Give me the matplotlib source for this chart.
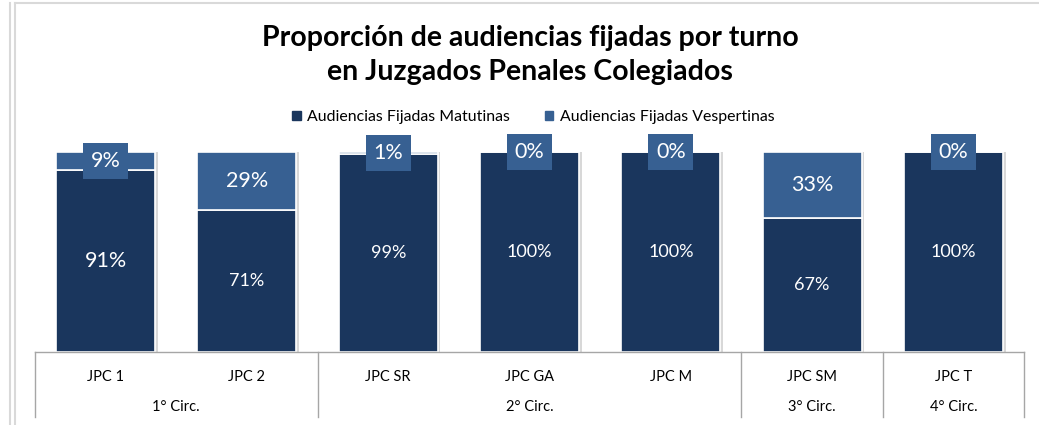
import matplotlib
matplotlib.use("Agg")
import matplotlib.pyplot as plt
from matplotlib.patches import Patch
from matplotlib.lines import Line2D
import numpy as np

plt.rcParams["font.family"] = ["Lato", "DejaVu Sans"]

juzgados = ["JPC 1", "JPC 2", "JPC SR", "JPC GA", "JPC M", "JPC SM", "JPC T"]
matutinas = [0.91, 0.71, 0.99, 1.00, 1.00, 0.67, 1.00]
vespertinas = [0.09, 0.29, 0.01, 0.00, 0.00, 0.33, 0.00]
circ_labels = ["1° Circ.", "2° Circ.", "3° Circ.", "4° Circ."]
circ_sizes = [2, 3, 1, 1]

C_MAT = "#1A365D"
C_VES = "#376092"
GRID = "#A6A6A6"

W, H = 1039, 425
fig = plt.figure(figsize=(W / 100, H / 100), dpi=100)
fig.add_artist(Line2D([15 / W, 15 / W], [0, 1 - 3 / H], color="#D9D9D9", lw=1.5))
fig.add_artist(Line2D([10 / W, 10 / W], [0, 1 - 3 / H], color="#D9D9D9", lw=1.5))
fig.add_artist(Line2D([15 / W, 1], [1 - 3 / H, 1 - 3 / H], color="#D9D9D9", lw=1.5))

ax = fig.add_axes([35 / W, 73 / H, 989 / W, 200 / H])
x = np.arange(len(juzgados))
bw = 0.70
# soft shadow to the right of each bar
ax.bar(x + 0.02, np.array(matutinas) + np.array(vespertinas), bw, color="#D8D8D8", zorder=1)
ax.bar(x, matutinas, bw, color=C_MAT, edgecolor="white", linewidth=1.2, zorder=2,
       label="Audiencias Fijadas Matutinas")
ax.bar(x, vespertinas, bw, bottom=matutinas, color=C_VES, edgecolor="white", linewidth=1.2,
       zorder=2, label="Audiencias Fijadas Vespertinas")

for i in range(len(juzgados)):
    m, v = matutinas[i], vespertinas[i]
    ax.text(x[i], m / 2, f"{m:.0%}", ha="center", va="center", color="white",
            fontsize=15.5 if 0.9 < m < 0.95 else 13, zorder=5)
    ax.text(x[i], m + v / 2, f"{v:.0%}", ha="center", va="center", color="white",
            fontsize=15.5, zorder=5, clip_on=False,
            bbox=dict(boxstyle="square,pad=0.36", fc=C_VES, ec="none"))

ax.set_xlim(-0.5, len(juzgados) - 0.5)
ax.set_ylim(0, 1)
ax.axis("off")

# category table below the axis
ax.plot([-0.5, len(juzgados) - 0.5], [0, 0], color=GRID, lw=1, clip_on=False)
edges = np.concatenate([[0], np.cumsum(circ_sizes)]) - 0.5
for e in edges:
    ax.plot([e, e], [0, -0.325], color=GRID, lw=1, clip_on=False)
for i, lab in enumerate(juzgados):
    ax.text(x[i], -0.125, lab, ha="center", va="center", fontsize=10.5, color="black")
for j, lab in enumerate(circ_labels):
    ax.text((edges[j] + edges[j + 1]) / 2, -0.275, lab, ha="center", va="center",
            fontsize=10.5, color="black")

fig.text(530 / W, 1 - 55 / H, "Proporción de audiencias fijadas por turno\nen Juzgados Penales Colegiados",
         ha="center", va="center", fontsize=20.5, fontweight="bold", linespacing=1.4)

handles = [Patch(color=C_MAT, label="Audiencias Fijadas Matutinas"),
           Patch(color=C_VES, label="Audiencias Fijadas Vespertinas")]
fig.legend(handles=handles, loc="center", bbox_to_anchor=(533 / W, 1 - 117 / H), ncol=2,
           frameon=False, fontsize=11.4, handlelength=0.55, handleheight=0.55,
           handletextpad=0.4, columnspacing=2.2)

fig.savefig("out.png", dpi=100)
